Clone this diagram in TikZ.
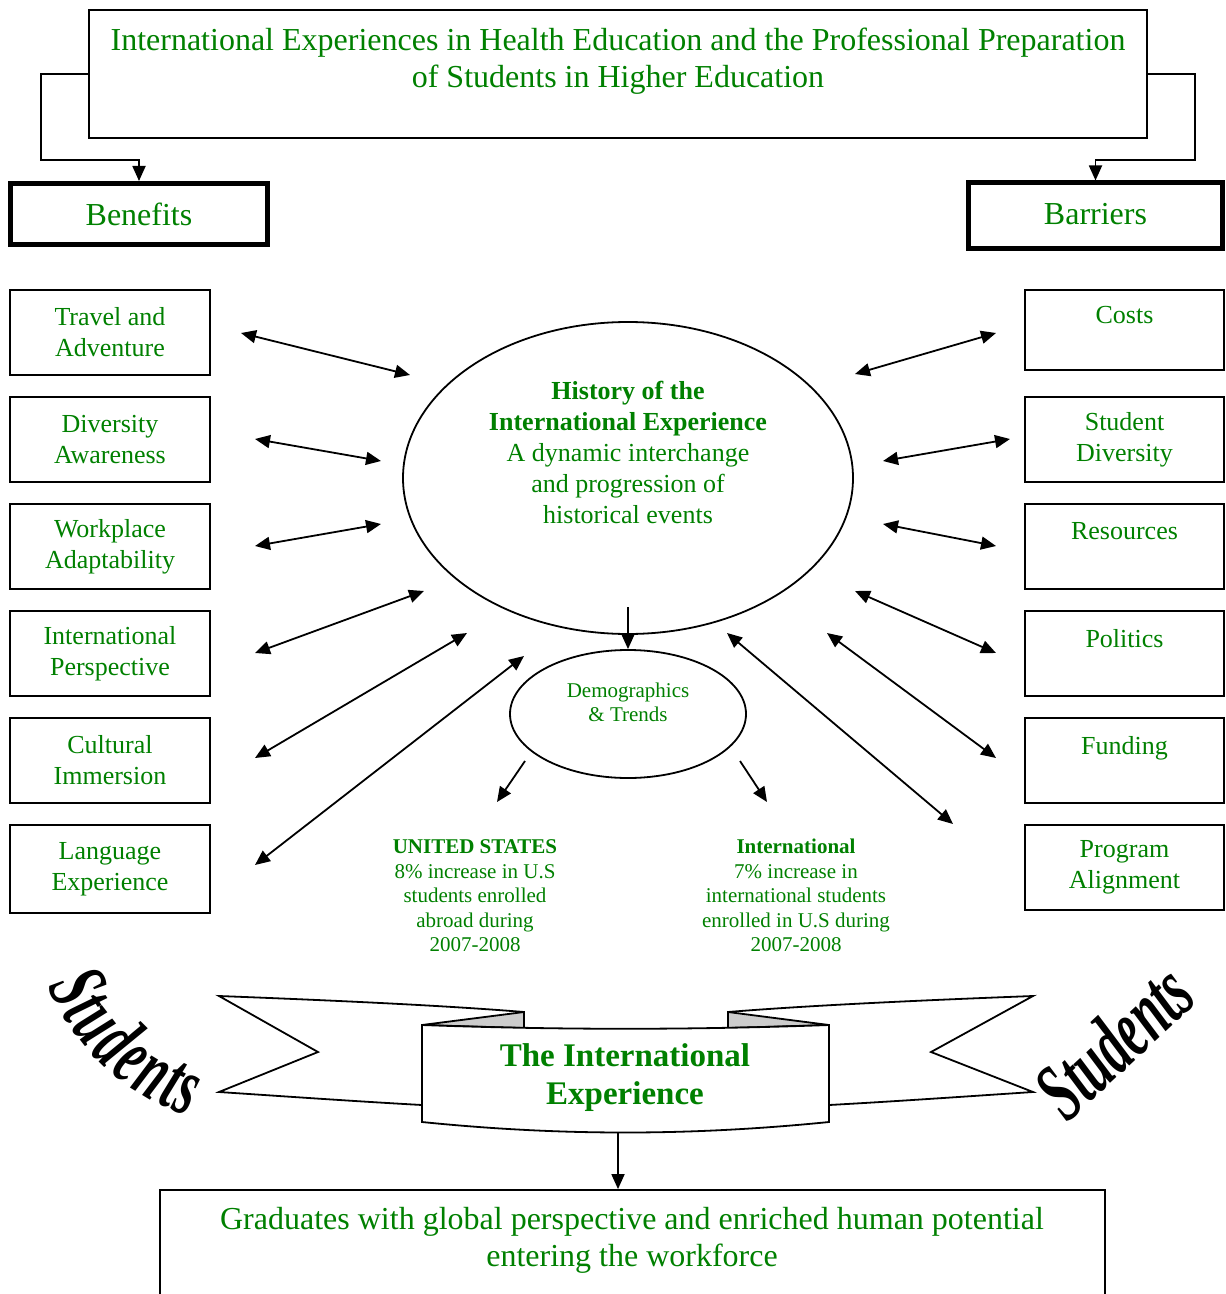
\documentclass[tikz,border=0pt]{standalone}
\usepackage{fontspec}
\usepackage{graphicx}
\setmainfont{Liberation Serif}
\usetikzlibrary{shapes.geometric,arrows.meta,calc}
\definecolor{dgreen}{RGB}{0,128,0}
\begin{document}
\begin{tikzpicture}[x=0.5pt,y=-0.5pt,
  ln/.style={line width=0.9pt},
  tip/.style={-{Triangle[length=7.5pt,width=6.5pt]}},
  dtip/.style={{Triangle[length=7.5pt,width=6.5pt]}-{Triangle[length=7.5pt,width=6.5pt]}},
  gtxt/.style={text=dgreen, align=center, inner sep=0pt},
  item/.style={draw, line width=0.9pt, minimum width=100pt, minimum height=42.5pt, inner sep=0pt, text=dgreen, align=center, font=\fontsize{13}{15.5}\selectfont},
  ritem/.style={item, minimum width=99.5pt},
  head/.style={draw, line width=2.5pt, inner sep=0pt, text=dgreen, font=\fontsize{16}{19}\selectfont},
  stud/.style={inner sep=0pt, font=\fontsize{42}{42}\selectfont\bfseries\itshape},
]
\useasboundingbox (0,0) rectangle (1225,1294);

% title
\node[draw, ln, minimum width=529pt, minimum height=64pt, inner sep=0pt] (title) at (618,74) {};
\node[gtxt, font=\fontsize{16}{18.5}\selectfont] (titletext) at (618,61)
  {International Experiences in Health Education and the Professional Preparation\\of Students in Higher Education};

% heads
\node[head, minimum width=128.5pt, minimum height=30.5pt] (benefits) at (139,214) {Benefits};
\node[head, minimum width=127pt, minimum height=33pt, text depth=2pt] (barriers) at (1095.5,216) {Barriers};
\coordinate (lbend) at (41,160);
\coordinate (rbend) at (1195,160);
\draw[ln,tip] (title.west) -| (lbend) -| (benefits.north);
\draw[ln,tip] (title.east) -| (rbend) -| (barriers.north);

% left items
\node[item] (travel) at (110,332.5) {Travel and\\Adventure};
\node[item] (divers) at (110,439.5) {Diversity\\Awareness};
\node[item] (work) at (110,546.5) {Workplace\\Adaptability};
\node[item] (intl) at (110,653.5) {International\\Perspective};
\node[item] (cult) at (110,760.5) {Cultural\\Immersion};
\node[item, minimum height=44pt] (lang) at (110,869) {Language\\Experience};

% right items
\node[ritem, minimum height=40pt] (costs) at (1124.5,330) {Costs\\\mbox{}};
\node[ritem] (sdiv) at (1124.5,439.5) {Student\\Diversity};
\node[ritem] (res) at (1124.5,546.5) {Resources\\\mbox{}};
\node[ritem] (pol) at (1124.5,653.5) {Politics\\\mbox{}};
\node[ritem] (fund) at (1124.5,760.5) {Funding\\\mbox{}};
\node[ritem] (prog) at (1124.5,867.5) {Program\\Alignment};

% central ellipse
\node[draw, ln, ellipse, minimum width=225pt, minimum height=156pt, inner sep=0pt] (hist) at (628,478) {};
\node[gtxt, font=\fontsize{13}{15.4}\selectfont] (histtext) at (628,452.5)
  {\textbf{History of the}\\\textbf{International Experience}\\A dynamic interchange\\and progression of\\historical events};

% demographics
\node[draw, ln, ellipse, minimum width=118pt, minimum height=64pt, inner sep=0pt, text=dgreen, align=center, font=\fontsize{10.5}{12}\selectfont] (demo) at (628,714) {Demographics\\\& Trends\\\mbox{}};
\coordinate (histin) at (628,607);
\draw[ln,tip] (histin) -- (demo.north);
\coordinate (d1a) at (525,761); \coordinate (d1b) at (497,802);
\coordinate (d2a) at (740,761); \coordinate (d2b) at (767,802);
\draw[ln,tip] (d1a) -- (d1b);
\draw[ln,tip] (d2a) -- (d2b);

\node[gtxt, font=\fontsize{10.5}{12.25}\selectfont] (usstat) at (475,896)
  {\textbf{UNITED STATES}\\8\% increase in U.S\\students enrolled\\abroad during\\2007-2008};
\node[gtxt, font=\fontsize{10.5}{12.25}\selectfont] (intlstat) at (796,895.5)
  {\textbf{International}\\7\% increase in\\international students\\enrolled in U.S during\\2007-2008};

% double arrows left
\coordinate (l1a) at (241,333); \coordinate (l1b) at (410,375);
\coordinate (l2a) at (255,439); \coordinate (l2b) at (381,461);
\coordinate (l3a) at (255,546); \coordinate (l3b) at (381,524);
\coordinate (l4a) at (255,653); \coordinate (l4b) at (424,591);
\coordinate (l5a) at (255,758); \coordinate (l5b) at (467,633);
\coordinate (l6a) at (255,865); \coordinate (l6b) at (524,656);
% double arrows right
\coordinate (r1a) at (855,374); \coordinate (r1b) at (996,333);
\coordinate (r2a) at (883,461); \coordinate (r2b) at (1010,439);
\coordinate (r3a) at (883,524); \coordinate (r3b) at (996,546);
\coordinate (r4a) at (855,591); \coordinate (r4b) at (996,653);
\coordinate (r5a) at (827,633); \coordinate (r5b) at (996,758);
\coordinate (r6a) at (727,633); \coordinate (r6b) at (953,824);
\foreach \s in {l1,l2,l3,l4,l5,l6,r1,r2,r3,r4,r5,r6}
  \draw[ln,dtip] (\s a) -- (\s b);

% banner
\draw[ln, fill=white] (219,996) .. controls (350,1001) and (450,1006) .. (524,1012) -- (524,1100)
  -- (422,1105) .. controls (350,1101) and (280,1096) .. (219,1092) -- (318,1052) -- cycle;
\draw[ln, fill=white] (1033,996) .. controls (902,1001) and (802,1006) .. (728,1012) -- (728,1100)
  -- (829,1105) .. controls (902,1101) and (972,1096) .. (1033,1092) -- (931,1052) -- cycle;
\draw[ln, fill=black!20] (422,1025) -- (524,1012) -- (524,1028) -- cycle;
\draw[ln, fill=black!20] (829,1025) -- (728,1012) -- (728,1028) -- cycle;
\draw[ln, fill=white] (422,1025) .. controls (560,1030) and (690,1030) .. (829,1025) -- (829,1122)
  .. controls (690,1136) and (560,1136) .. (422,1122) -- cycle;
\node[gtxt, font=\fontsize{16.5}{19}\selectfont\bfseries] (bantext) at (625,1078) {The International\\Experience};

% final
\coordinate (banbot) at (618,1132);
\node[draw, ln, minimum width=472.5pt, minimum height=60pt, inner sep=0pt] (final) at (632.5,1250) {};
\node[gtxt, font=\fontsize{16}{18.5}\selectfont] (finaltext) at (632,1240.5)
  {Graduates with global perspective and enriched human potential\\entering the workforce};
\draw[ln,tip] (banbot) -- (banbot |- final.north);

% Students left (along arc)
\foreach \ch/\p [count=\i] in {S/0.278, t/0.695, u/1.112, d/1.64, e/2.112, n/2.612, t/3.029, s/3.362} {
  \pgfmathsetmacro\ang{157.6-13.9*\p}
  \node[stud, anchor=base, rotate=90-\ang] (sl\i) at ({262+232*cos(\ang)},{896+232*sin(\ang)}) {\scalebox{0.58}[1]{\ch}};
}
% Students right
\node[stud, rotate=43] (sr) at (1114,1041) {\scalebox{0.6}[1]{Students}};
\end{tikzpicture}
\end{document}
